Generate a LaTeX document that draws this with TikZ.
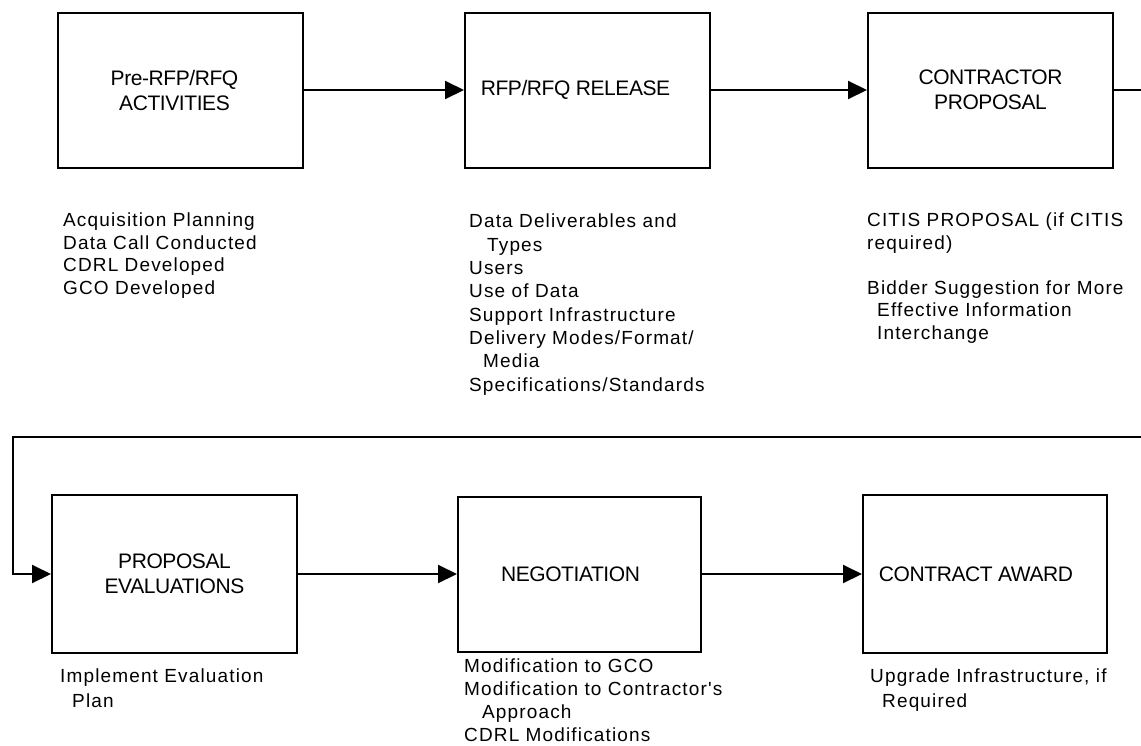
\documentclass[tikz,border=0pt]{standalone}
\usepackage{fontspec}
\setmainfont{Liberation Sans}[Ligatures=TeXOff]
\usetikzlibrary{arrows.meta}

\begin{document}
\begin{tikzpicture}[x=1pt,y=-1pt]
\tikzstyle{every node}=[inner sep=0pt]
\tikzstyle{stage}=[draw,line width=2pt,minimum width=245pt,minimum height=155pt,align=center,
  font=\fontsize{21}{25}\selectfont\addfontfeature{LetterSpace=-2}]
\tikzstyle{notes}=[anchor=north west,align=left,
  font=\fontsize{19}{22.5}\selectfont\addfontfeature{LetterSpace=6}]
\tikzstyle{flow}=[-{Triangle[length=19pt,width=18pt]},line width=2pt]
\useasboundingbox (0,0) rectangle (1141,745);
\clip (0,0) rectangle (1141,745);
% stages
\node[stage] (b1) at (180.5,90) {Pre-RFP/RFQ\hspace*{12pt}\\ACTIVITIES\hspace*{12pt}};
\node[stage] (b2) at (587.5,90) {RFP/RFQ RELEASE\hspace*{24pt}};
\node[stage] (b3) at (990.5,90) {CONTRACTOR\\PROPOSAL};
\node[stage,minimum height=158pt] (b4) at (174.5,574) {PROPOSAL\\EVALUATIONS};
\node[stage,minimum width=243pt] (b5) at (579.5,574) {NEGOTIATION\hspace*{18pt}};
\node[stage,minimum width=244pt,minimum height=158pt] (b6) at (985,574) {CONTRACT AWARD\hspace*{18pt}};
% notes under the stages
\node[notes] (n1) at (63,213) {Acquisition Planning\\Data Call Conducted\\CDRL Developed\\GCO Developed};
\node[notes,font=\fontsize{19}{23.3}\selectfont\addfontfeature{LetterSpace=6}] (n2) at (469,214)
 {Data Deliverables and\\\hspace*{18pt}Types\\Users\\Use of Data\\Support Infrastructure\\
  Delivery Modes/Format/\\\hspace*{14pt}Media\\Specifications/Standards};
\node[notes] (n3) at (867,213)
 {CITIS PROPOSAL (if CITIS\\required)\\[22.5pt]Bidder Suggestion for More\\
  \hspace*{10pt}Effective Information\\\hspace*{10pt}Interchange};
\node[notes,font=\fontsize{19}{24.5}\selectfont\addfontfeature{LetterSpace=6}] (n4) at (60,669)
 {Implement Evaluation\\\hspace*{12pt}Plan};
\node[notes,font=\fontsize{19}{22.8}\selectfont\addfontfeature{LetterSpace=6}] (n5) at (464,659)
 {Modification to GCO\\Modification to Contractor's\\\hspace*{18pt}Approach\\CDRL Modifications};
\node[notes,font=\fontsize{19}{24.5}\selectfont\addfontfeature{LetterSpace=6}] (n6) at (870,669)
 {Upgrade Infrastructure, if\\\hspace*{12pt}Required};
% return line
\coordinate (r1) at (1160,437);
\coordinate (r2) at (13,437);
\path[flow]
(b1) edge (b2)
(b2) edge (b3)
(b4) edge (b5)
(b5) edge (b6)
;
\draw[flow] (b3.east) -| (r1) -- (r2) |- (b4.west);
\end{tikzpicture}
\end{document}
